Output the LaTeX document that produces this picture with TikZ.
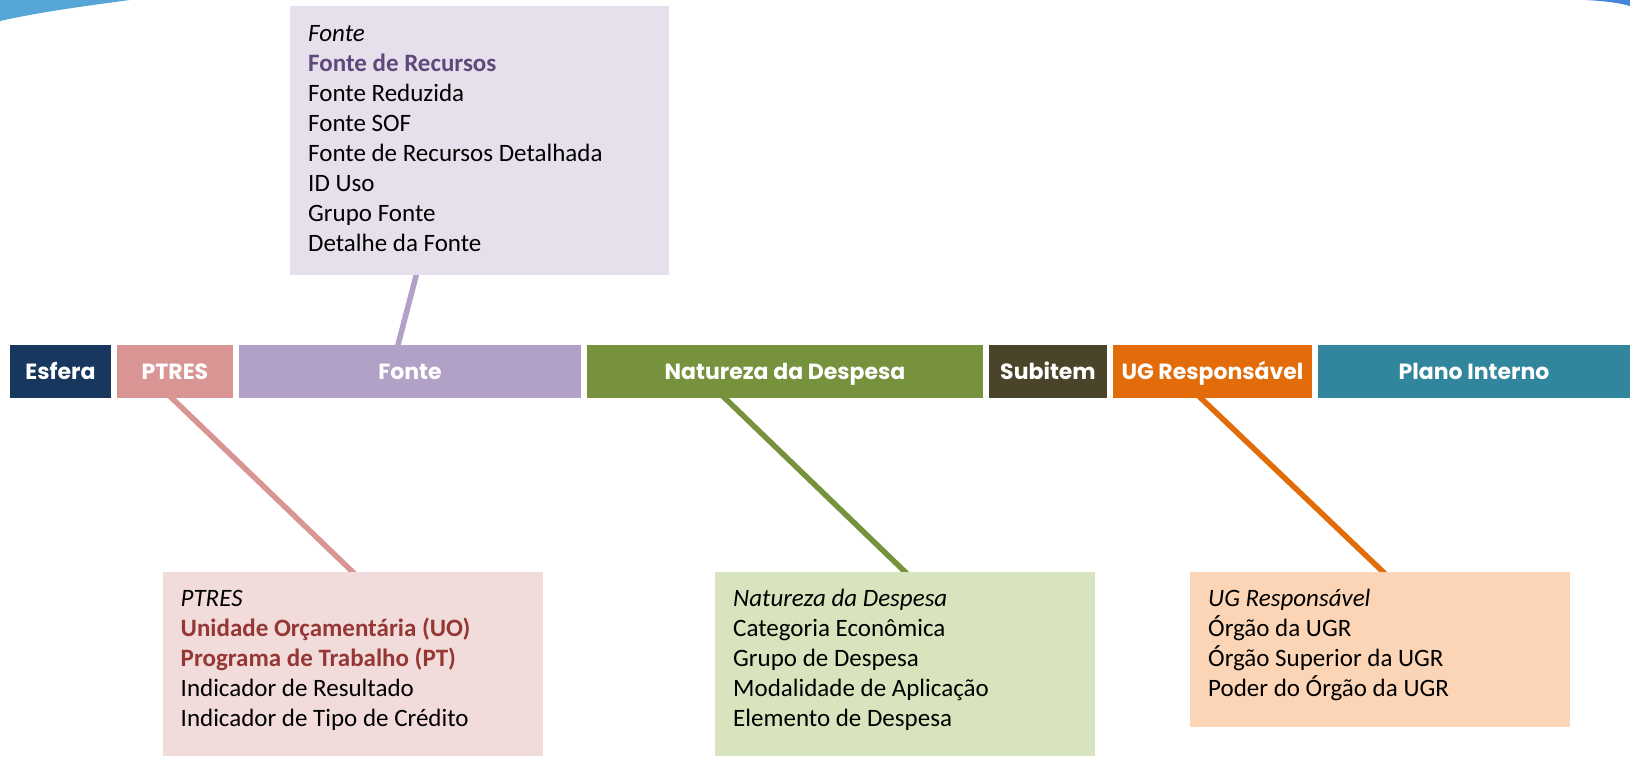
\documentclass[tikz,border=0pt]{standalone}
\usepackage{fontspec}
\usepackage{xcolor}
\setmainfont{Carlito}
\newfontfamily\barfont{Poppins}
\usetikzlibrary{positioning,backgrounds}

\definecolor{esferaC}{HTML}{17375E}
\definecolor{ptresC}{HTML}{D99594}
\definecolor{fonteC}{HTML}{B2A1C7}
\definecolor{naturezaC}{HTML}{76923C}
\definecolor{subitemC}{HTML}{4A452A}
\definecolor{ugC}{HTML}{E36C0A}
\definecolor{planoC}{HTML}{31859C}
\definecolor{fonteBg}{HTML}{E5E0EC}
\definecolor{ptresBg}{HTML}{F2DCDB}
\definecolor{naturezaBg}{HTML}{D7E4BD}
\definecolor{ugBg}{HTML}{FBD5B5}
\definecolor{fonteBold}{HTML}{5F497A}
\definecolor{ptresBold}{HTML}{953735}
\definecolor{swooshC}{HTML}{55A6D6}

\begin{document}
\begin{tikzpicture}[x=1pt,y=-1pt,
    bar/.style={minimum height=53, inner sep=0pt, text=white,
      text height=17.5pt, text depth=2.5pt,
      font=\barfont\bfseries\fontsize{22}{26}\selectfont},
    detail/.style={anchor=north west, minimum width=380, inner sep=0pt},
    lista/.style={anchor=north west, inner sep=0pt, align=left,
      font=\fontsize{25}{30}\selectfont},
    link/.style={line width=5.5pt, shorten <=-4pt, shorten >=-4pt}]
  \useasboundingbox (0,0) rectangle (1630,756);
  % swooshes in the corners
  \fill[swooshC] (0,0) -- (130,0) .. controls (85,6) and (40,12) .. (0,21) -- cycle;
  \fill[swooshC!80!blue] (1585,0) .. controls (1605,1) and (1620,3) .. (1630,6) -- (1630,0) -- cycle;

  % the bar
  \foreach \n/\x/\w/\c/\t in {esfera/60.5/101/esferaC/Esfera,
      ptres/175/116/ptresC/PTRES,
      fonte/410/342/fonteC/Fonte,
      natureza/785/396/naturezaC/Natureza da Despesa,
      subitem/1048/118/subitemC/Subitem,
      ug/1212.5/199/ugC/UG Responsável,
      plano/1474/312/planoC/Plano Interno}{
    \node[bar, fill=\c, minimum width=\w] (\n) at (\x,371.5) {\t};
  }

  % detail boxes
  \node[detail, fill=fonteBg, minimum width=379, minimum height=269] (fonteBox) at (290,6) {};
  \node[detail, fill=ptresBg, minimum height=184] (ptresBox) at (162.5,572) {};
  \node[detail, fill=naturezaBg, minimum height=184] (naturezaBox) at (715,572) {};
  \node[detail, fill=ugBg, minimum height=155] (ugBox) at (1190,572) {};

  \node[lista] (fonteLista) at ([xshift=18pt,yshift=-14pt]fonteBox.north west)
    {\strut\textit{Fonte}\\
     \textcolor{fonteBold}{\textbf{Fonte de Recursos}}\\
     Fonte Reduzida\\
     Fonte SOF\\
     Fonte de Recursos Detalhada\\
     ID Uso\\
     Grupo Fonte\\
     Detalhe da Fonte};
  \node[lista] (ptresLista) at ([xshift=18pt,yshift=-13pt]ptresBox.north west)
    {\strut\textit{PTRES}\\
     \textcolor{ptresBold}{\textbf{Unidade Orçamentária (UO)}}\\
     \textcolor{ptresBold}{\textbf{Programa de Trabalho (PT)}}\\
     Indicador de Resultado\\
     Indicador de Tipo de Crédito};
  \node[lista] (naturezaLista) at ([xshift=18pt,yshift=-13pt]naturezaBox.north west)
    {\strut\textit{Natureza da Despesa}\\
     Categoria Econômica\\
     Grupo de Despesa\\
     Modalidade de Aplicação\\
     Elemento de Despesa};
  \node[lista] (ugLista) at ([xshift=18pt,yshift=-13pt]ugBox.north west)
    {\strut\textit{UG Responsável}\\
     Órgão da UGR\\
     Órgão Superior da UGR\\
     Poder do Órgão da UGR};

  % connectors
  \begin{pgfonlayer}{background}
    \draw[link, fonteC] ([xshift=-12pt]fonte.north) -- ([xshift=-63.5pt]fonteBox.south);
    \draw[link, ptresC] ([xshift=-3pt]ptres.south) -- (ptresBox.north);
    \draw[link, naturezaC] ([xshift=-60pt]natureza.south) -- (naturezaBox.north);
    \draw[link, ugC] ([xshift=-11.5pt]ug.south) -- ([xshift=3pt]ugBox.north);
  \end{pgfonlayer}
\end{tikzpicture}
\end{document}
